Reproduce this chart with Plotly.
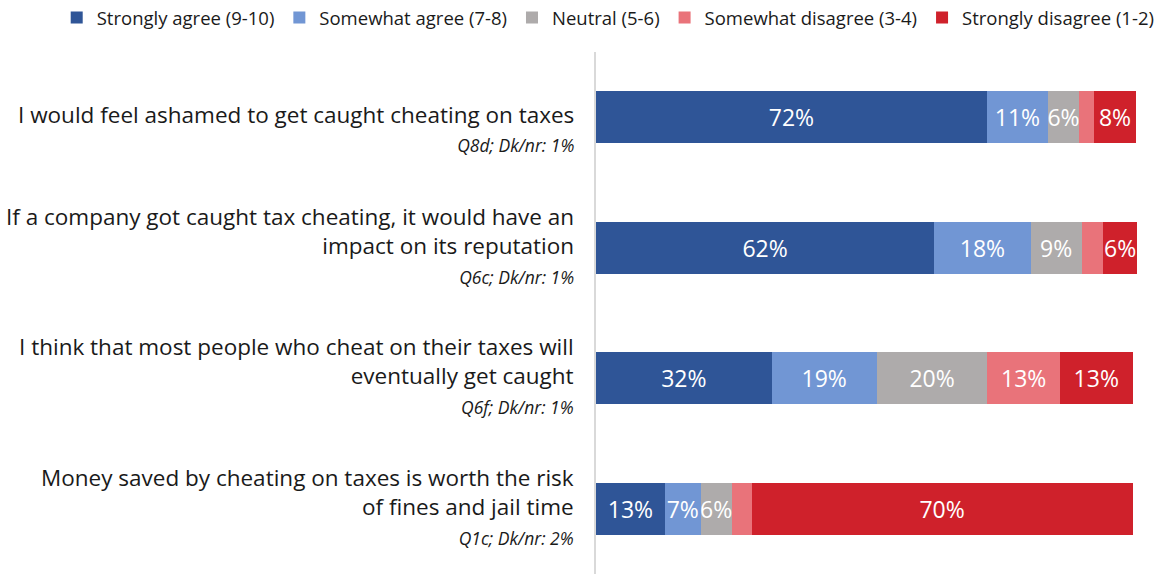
import plotly.graph_objects as go

categories = [
    "I would feel ashamed to get caught cheating on taxes",
    "If a company got caught tax cheating, it would have an impact on its reputation",
    "I think that most people who cheat on their taxes will eventually get caught",
    "Money saved by cheating on taxes is worth the risk of fines and jail time",
]
label_lines = [
    ["I would feel ashamed to get caught cheating on taxes"],
    ["If a company got caught tax cheating, it would have an", "impact on its reputation"],
    ["I think that most people who cheat on their taxes will", "eventually get caught"],
    ["Money saved by cheating on taxes is worth the risk", "of fines and jail time"],
]
sub_labels = ["Q8d; Dk/nr: 1%", "Q6c; Dk/nr: 1%", "Q6f; Dk/nr: 1%", "Q1c; Dk/nr: 2%"]

series_names = ["Strongly agree (9-10)", "Somewhat agree (7-8)", "Neutral (5-6)",
                "Somewhat disagree (3-4)", "Strongly disagree (1-2)"]
# bar lengths (in %)
strongly_agree = [72.1, 62.4, 32.4, 12.7]
somewhat_agree = [11.3, 17.8, 19.4, 6.6]
neutral = [5.7, 9.4, 20.4, 5.7]
somewhat_disagree = [2.8, 4.0, 13.4, 3.7]
strongly_disagree = [7.7, 6.2, 13.4, 70.3]

colors = ["#2F5597", "#7196D4", "#AEABAB", "#E9737A", "#CF212B"]
FONT = "Open Sans, Roboto, sans-serif"

series = [strongly_agree, somewhat_agree, neutral, somewhat_disagree, strongly_disagree]
ypos = list(range(len(categories)))

fig = go.Figure()
for name, vals, col in zip(series_names, series, colors):
    texts = [f"{v:.0f}%" if v >= 5 else "" for v in vals]
    fig.add_trace(go.Bar(
        y=ypos, x=vals, name=name, orientation="h",
        marker=dict(color=col, line=dict(width=0)),
        text=texts, textposition="inside", insidetextanchor="middle",
        textangle=0, constraintext="none",
        textfont=dict(color="white", size=23, family=FONT),
        hoverinfo="skip",
    ))

annotations = []
for i, lines in enumerate(label_lines):
    sub = f'<span style="font-size:17.5px"><i>{sub_labels[i]}</i></span>'
    text = "<br>".join(lines + [sub])
    yshift = -10.4 if len(lines) == 1 else 3
    annotations.append(dict(
        xref="paper", yref="y", x=0, y=i, xanchor="right", yanchor="middle",
        align="right", xshift=-20, yshift=yshift,
        text=text, showarrow=False,
        font=dict(size=22.5, color="#1a1a1a", family=FONT)))

fig.update_layout(
    width=1169, height=576,
    barmode="stack", bargap=0.6,
    margin=dict(l=596, r=31, t=52, b=2, autoexpand=False),
    plot_bgcolor="white", paper_bgcolor="white",
    xaxis=dict(range=[0, 100], visible=False, fixedrange=True),
    yaxis=dict(range=[3.5, -0.5], showticklabels=False, showgrid=False, zeroline=False,
               showline=True, linecolor="#D9D9D9", linewidth=1.5, ticks=""),
    legend=dict(orientation="h", x=-0.995, xanchor="left",
                y=1.029, yanchor="bottom",
                font=dict(size=18.5, color="#1a1a1a", family=FONT),
                traceorder="normal", itemwidth=30, tracegroupgap=0),
    annotations=annotations,
    font=dict(family=FONT),
)

fig.write_html("out.html")
